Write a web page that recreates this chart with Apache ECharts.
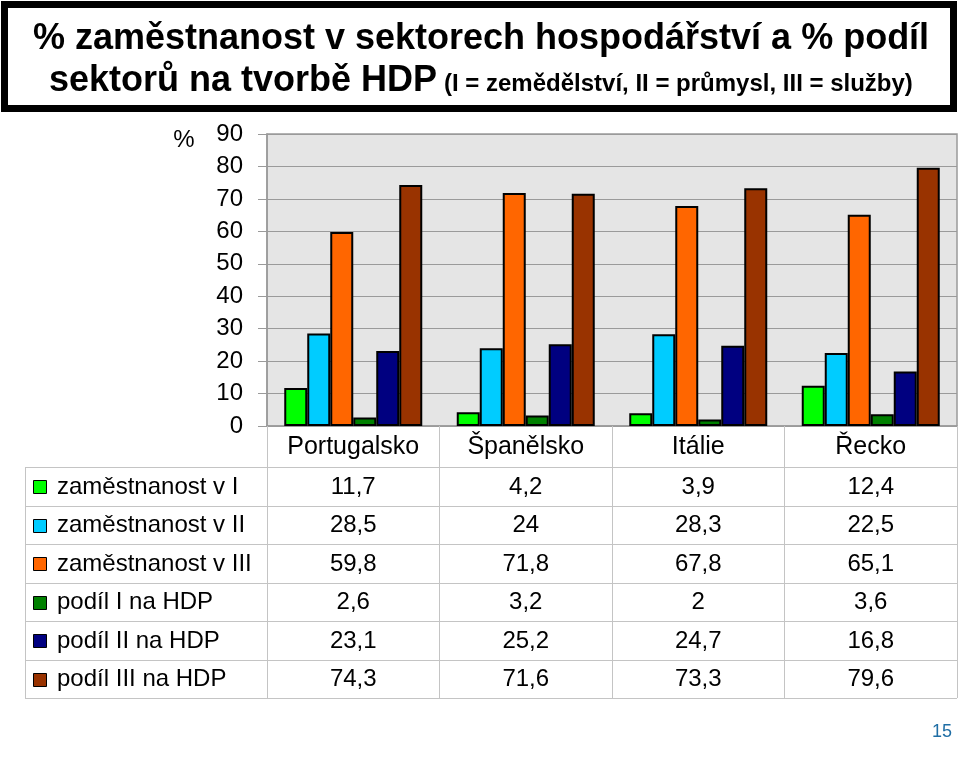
<!DOCTYPE html>
<html><head><meta charset="utf-8">
<script src="https://cdn.jsdelivr.net/npm/echarts@6/dist/echarts.min.js"></script>
<style>html,body{margin:0;padding:0;background:#fff}#c{width:960px;height:759px}</style>
</head><body><div id="c"></div>
<script>
const categories = ['Portugalsko', 'Španělsko', 'Itálie', 'Řecko'];
const seriesNames = ['zaměstnanost v I', 'zaměstnanost v II', 'zaměstnanost v III', 'podíl I na HDP', 'podíl II na HDP', 'podíl III na HDP'];
const empI = [11.7, 4.2, 3.9, 12.4];
const empII = [28.5, 24, 28.3, 22.5];
const empIII = [59.8, 71.8, 67.8, 65.1];
const gdpI = [2.6, 3.2, 2, 3.6];
const gdpII = [23.1, 25.2, 24.7, 16.8];
const gdpIII = [74.3, 71.6, 73.3, 79.6];
const yTicks = [0, 10, 20, 30, 40, 50, 60, 70, 80, 90];
const colors = ['#00FF00', '#00CCFF', '#FF6600', '#008000', '#000080', '#993300'];

const allSeries = [empI, empII, empIII, gdpI, gdpII, gdpIII];
const FONT = 'Liberation Sans, Arial, sans-serif';

const chart = echarts.init(document.getElementById('c'));
const option = {
  backgroundColor: '#fff',
  animation: false,
  grid: { left: 267, top: 134, width: 690, height: 292, show: true, backgroundColor: '#e5e5e5', borderColor: '#9a9a9a', borderWidth: 1.5 },
  xAxis: {
    type: 'category', data: categories,
    axisLine: { lineStyle: { color: '#9a9a9a', width: 1.5 } },
    axisTick: { show: true, length: 272, lineStyle: { color: '#c4c4c4', width: 1 } },
    axisLabel: { fontSize: 25, color: '#000', margin: 9, fontFamily: FONT }
  },
  yAxis: {
    type: 'value', min: yTicks[0], max: yTicks[yTicks.length - 1], interval: yTicks[1] - yTicks[0],
    axisLine: { show: true, lineStyle: { color: '#9a9a9a', width: 1.5 } },
    axisTick: { show: true, length: 9, lineStyle: { color: '#9a9a9a' } },
    splitLine: { lineStyle: { color: '#9a9a9a', width: 1 } },
    axisLabel: { fontSize: 24, color: '#000', margin: 24, fontFamily: FONT }
  },
  series: allSeries.map((d, i) => ({
    name: seriesNames[i], type: 'bar', data: d,
    barGap: '0%', barCategoryGap: '20%',
    itemStyle: { color: colors[i], borderColor: '#000', borderWidth: 2 }
  }))
};
chart.setOption(option);

const fmt = v => String(v).replace('.', ',');
const rowTop = 467, rowH = 38.5, tableLeft = 25, tableRight = 957;
const g = [];
// title box
g.push({ type: 'rect', shape: { x: 4.5, y: 4.5, width: 949, height: 104 }, style: { fill: '#fff', stroke: '#000', lineWidth: 7 } });
g.push({ type: 'text', x: 481, y: 39, style: { text: '% zaměstnanost v sektorech hospodářství a % podíl', font: 'bold 36px ' + FONT, fill: '#000', align: 'center', verticalAlign: 'middle' } });
g.push({ type: 'text', x: 49, y: 81, style: { text: 'sektorů na tvorbě HDP', font: 'bold 36px ' + FONT, fill: '#000', align: 'left', verticalAlign: 'middle' } });
g.push({ type: 'text', x: 444, y: 84, style: { text: '(I = zemědělství, II = průmysl, III = služby)', font: 'bold 24px ' + FONT, fill: '#000', align: 'left', verticalAlign: 'middle' } });
// % label
g.push({ type: 'text', x: 184, y: 140, style: { text: '%', font: '24px ' + FONT, fill: '#000', align: 'center', verticalAlign: 'middle' } });
// table lines
for (let k = 0; k <= seriesNames.length; k++) {
  const y = Math.round(rowTop + rowH * k) + 0.5;
  g.push({ type: 'line', shape: { x1: tableLeft, y1: y, x2: tableRight, y2: y }, style: { stroke: '#c4c4c4', lineWidth: 1 } });
}
g.push({ type: 'line', shape: { x1: tableLeft + 0.5, y1: rowTop, x2: tableLeft + 0.5, y2: rowTop + rowH * seriesNames.length }, style: { stroke: '#c4c4c4', lineWidth: 1 } });
// rows
seriesNames.forEach((name, r) => {
  const cy = rowTop + rowH * (r + 0.5) + 1;
  g.push({ type: 'rect', shape: { x: 33.5, y: Math.round(cy - 7) + 0.5, width: 13, height: 13 }, style: { fill: colors[r], stroke: '#000', lineWidth: 1 } });
  g.push({ type: 'text', x: 57, y: cy, style: { text: name, font: '24px ' + FONT, fill: '#000', align: 'left', verticalAlign: 'middle' } });
  allSeries[r].forEach((v, c) => {
    const px = chart.convertToPixel({ xAxisIndex: 0 }, categories[c]);
    g.push({ type: 'text', x: px, y: cy, style: { text: fmt(v), font: '24px ' + FONT, fill: '#000', align: 'center', verticalAlign: 'middle' } });
  });
});
// page number
g.push({ type: 'text', x: 942, y: 732, style: { text: '15', font: '18px ' + FONT, fill: '#1f6ea5', align: 'center', verticalAlign: 'middle' } });
chart.setOption({ graphic: g });
</script></body></html>
